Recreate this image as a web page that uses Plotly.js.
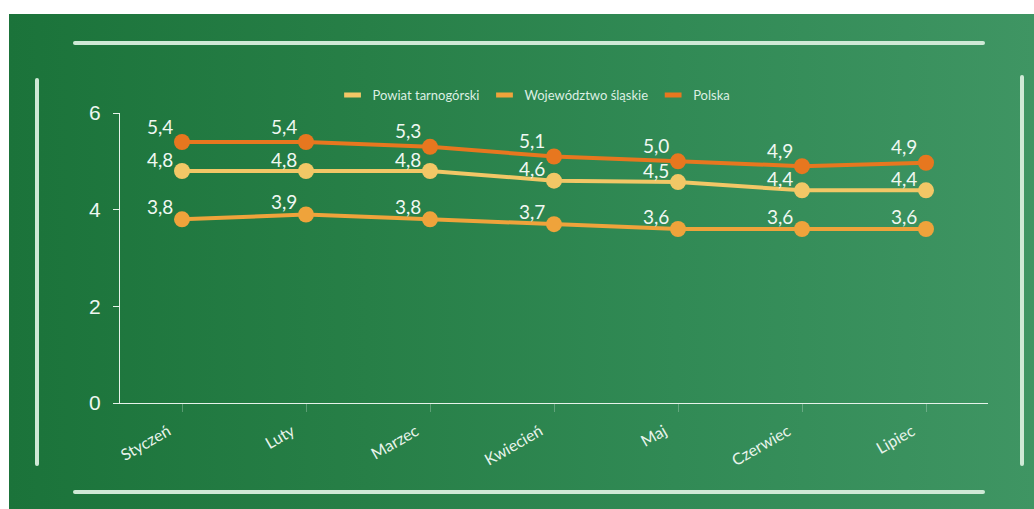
<!DOCTYPE html>
<html>
<head>
<meta charset="utf-8">
<script src="https://cdn.plot.ly/plotly-3.0.1.min.js"></script>
<style>
  html, body { margin: 0; padding: 0; background: #ffffff; width: 1034px; height: 509px; overflow: hidden; }
  #bg { position: absolute; left: 9px; top: 14px; width: 1025px; height: 495px;
        background: linear-gradient(90deg, #1b733a 0%, #277f47 35%, #318a55 65%, #3f9563 100%); }
  .deco { position: absolute; background: #cfe9d6; border-radius: 2px; }
  #chart { position: absolute; left: 0; top: 0; width: 1034px; height: 509px; }
</style>
</head>
<body>
<div id="bg"></div>
<div class="deco" style="left:73px; top:41px; width:912px; height:4px;"></div>
<div class="deco" style="left:73px; top:490px; width:912px; height:4px;"></div>
<div class="deco" style="left:35px; top:78px; width:4px; height:388px;"></div>
<div class="deco" style="left:1020px; top:75px; width:4px; height:391px;"></div>
<div id="chart"></div>
<script>
const months = ['Styczeń', 'Luty', 'Marzec', 'Kwiecień', 'Maj', 'Czerwiec', 'Lipiec'];

const powiatName = 'Powiat tarnogórski';
const powiatValues = [4.8, 4.8, 4.8, 4.6, 4.57, 4.4, 4.4];
const powiatLabels = ['4,8', '4,8', '4,8', '4,6', '4,5', '4,4', '4,4'];

const wojName = 'Województwo śląskie';
const wojValues = [3.8, 3.9, 3.8, 3.7, 3.6, 3.6, 3.6];
const wojLabels = ['3,8', '3,9', '3,8', '3,7', '3,6', '3,6', '3,6'];

const polskaName = 'Polska';
const polskaValues = [5.4, 5.4, 5.3, 5.1, 5.0, 4.9, 4.97];
const polskaLabels = ['5,4', '5,4', '5,3', '5,1', '5,0', '4,9', '4,9'];

const yTicks = [0, 2, 4, 6];

const colors = { powiat: '#f2c766', woj: '#efa33b', polska: '#e7771f' };
const labelFont = { family: 'Lato, sans-serif', size: 19, color: '#f0f8f2' };

function seriesTrace(name, vals, color) {
  return {
    type: 'scatter', mode: 'lines+markers', name: name, showlegend: false,
    x: months, y: vals,
    line: { color: color, width: 4 },
    marker: { color: color, size: 16 },
    hoverinfo: 'x+y'
  };
}
function legendTrace(name, color) {
  return {
    type: 'scatter', mode: 'markers', name: name, x: [null], y: [null],
    marker: { symbol: 'line-ew-open', size: 12, color: color, line: { color: color, width: 5 } },
    showlegend: true
  };
}
function labelAnnotations(vals, labels, dy) {
  return months.map((m, i) => ({
    x: m, y: vals[i], xref: 'x', yref: 'y', text: labels[i], showarrow: false,
    xanchor: 'center', yanchor: 'middle', xshift: -22, yshift: dy,
    font: labelFont
  }));
}

const data = [
  seriesTrace(wojName, wojValues, colors.woj),
  seriesTrace(powiatName, powiatValues, colors.powiat),
  seriesTrace(polskaName, polskaValues, colors.polska),
  legendTrace(powiatName, colors.powiat),
  legendTrace(wojName, colors.woj),
  legendTrace(polskaName, colors.polska)
];

const layout = {
  width: 1034, height: 509,
  paper_bgcolor: 'rgba(0,0,0,0)', plot_bgcolor: 'rgba(0,0,0,0)',
  margin: { l: 120, r: 46, t: 113, b: 106 },
  showlegend: true,
  legend: {
    orientation: 'h', x: 0.477, xanchor: 'center', y: 1.062, yanchor: 'middle',
    font: { family: 'Lato, sans-serif', size: 13, color: '#dcefe2' },
    bgcolor: 'rgba(0,0,0,0)', itemwidth: 30
  },
  annotations: [].concat(
    labelAnnotations(polskaValues, polskaLabels, 16),
    labelAnnotations(powiatValues, powiatLabels, 12),
    labelAnnotations(wojValues, wojLabels, 13)
  ),
  xaxis: {
    type: 'category', range: [-0.5, 6.5], fixedrange: true,
    showgrid: false, zeroline: false,
    showline: true, linecolor: '#e6f3ea', linewidth: 1,
    ticks: 'outside', ticklen: 8, tickcolor: 'rgba(255,255,255,0.25)', tickwidth: 1,
    tickangle: -30, ticklabelstandoff: 4, ticklabelshift: -14,
    tickfont: { family: 'Lato, sans-serif', size: 16, color: '#e8f4ec' }
  },
  yaxis: {
    range: [0, 6], fixedrange: true, tickvals: yTicks, ticktext: yTicks.map(String),
    showgrid: false, zeroline: false,
    showline: true, linecolor: '#e6f3ea', linewidth: 1,
    ticks: 'outside', ticklen: 6, tickcolor: '#e6f3ea', tickwidth: 1,
    ticklabelstandoff: 8,
    tickfont: { family: 'Liberation Sans, Arial, sans-serif', size: 21, color: '#eef7f1' }
  }
};

Plotly.newPlot('chart', data, layout, { displayModeBar: false, staticPlot: true });
</script>
</body>
</html>
